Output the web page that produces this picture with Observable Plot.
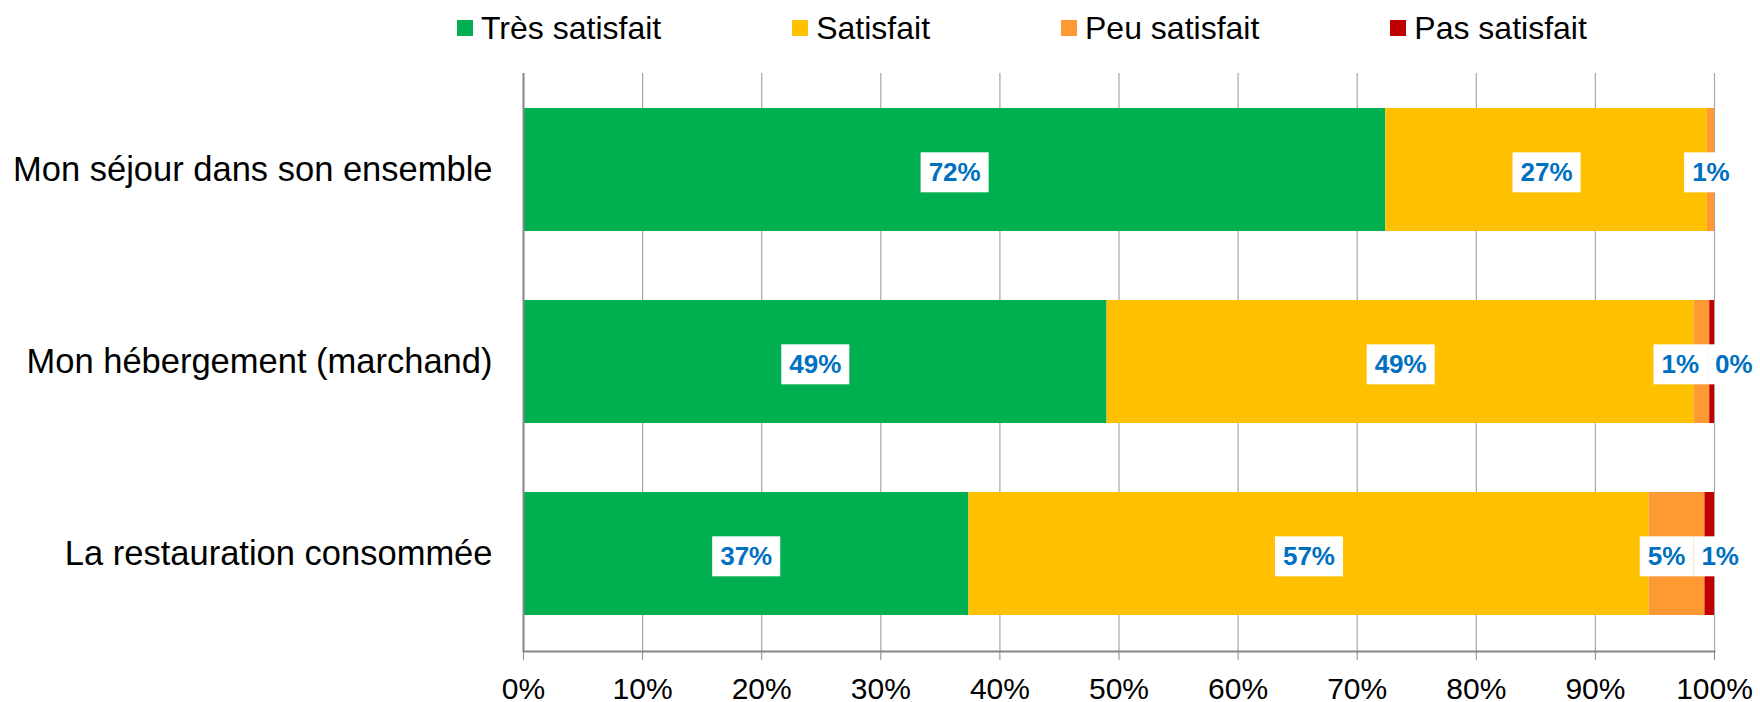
<!DOCTYPE html>
<html><head><meta charset="utf-8">
<script src="https://cdn.jsdelivr.net/npm/d3@7"></script>
<script src="https://cdn.jsdelivr.net/npm/@observablehq/plot@0.6"></script>
<style>
body{margin:0;background:#fff;font-family:"Liberation Sans",Arial,Helvetica,sans-serif;}
#legend{height:56px;display:flex;align-items:center;padding-left:457px;padding-top:0px;gap:131px;font-size:32px;color:#000;box-sizing:border-box;}
.item{display:flex;align-items:center;gap:8px;white-space:nowrap}
.sw{width:16px;height:16px;display:inline-block}
</style></head><body>
<div id="legend"></div><div id="chart"></div>
<script>
const categories = ["Mon séjour dans son ensemble", "Mon hébergement (marchand)", "La restauration consommée"];
const series = ["Très satisfait", "Satisfait", "Peu satisfait", "Pas satisfait"];
const tresSatisfait = [72.4, 49.0, 37.4];
const satisfait = [27.0, 49.3, 57.1];
const peuSatisfait = [0.6, 1.3, 4.7];
const pasSatisfait = [null, 0.4, 0.8];
const xTicks = [0, 10, 20, 30, 40, 50, 60, 70, 80, 90, 100];
const colors = ["#00B050", "#FFC000", "#FF9933", "#C00000"];

const seriesValues = [tresSatisfait, satisfait, peuSatisfait, pasSatisfait];
const data = [];
categories.forEach((c, i) => series.forEach((s, j) => {
  const v = seriesValues[j][i];
  if (v != null) data.push({cat: c, serie: s, value: v});
}));

// labels at segment centers, spread apart when too close
const labels = [];
categories.forEach(c => {
  let cum = 0;
  const row = [];
  data.filter(d => d.cat === c).forEach(d => {
    row.push({cat: c, lx: cum + d.value / 2, txt: Math.round(d.value) + "%"});
    cum += d.value;
  });
  const gap = 4.5;
  for (let k = 0; k < 6; k++) for (let i = 1; i < row.length; i++) {
    const dd = row[i].lx - row[i - 1].lx;
    if (dd < gap) { const s = (gap - dd) / 2; row[i].lx += s; row[i - 1].lx -= s; }
  }
  labels.push(...row);
});

// legend
const leg = document.getElementById("legend");
series.forEach((s, j) => {
  const it = document.createElement("div"); it.className = "item";
  const sw = document.createElement("span"); sw.className = "sw"; sw.style.background = colors[j];
  const tx = document.createElement("span"); tx.textContent = s;
  it.append(sw, tx); leg.append(it);
});

const chart = Plot.plot({
  width: 1760, height: 646,
  marginTop: 17, marginBottom: 51, marginLeft: 523, marginRight: 46,
  style: {fontFamily: "Liberation Sans, Arial, Helvetica, sans-serif", background: "#fff", color: "#000", overflow: "visible"},
  x: {domain: [0, 100]},
  y: {domain: categories, paddingInner: 0.357, paddingOuter: 0.1785, label: null},
  color: {domain: series, range: colors},
  marks: [
    Plot.gridX(xTicks.slice(1), {stroke: "#a6a6a6", strokeOpacity: 1, strokeWidth: 1.2}),
    Plot.barX(data, {x: "value", y: "cat", fill: "serie", order: series}),
    Plot.ruleX([0], {stroke: "#868686", strokeWidth: 2}),
    Plot.frame({anchor: "bottom", stroke: "#868686", strokeWidth: 2}),
    Plot.axisX(xTicks, {tickFormat: d => d + "%", tickSize: 9, tickPadding: 17, fontSize: 30, stroke: "#868686", fill: "#000", label: null}),
    Plot.axisY({tickSize: 0, tickPadding: 31, fontSize: 34.5, fill: "#000", label: null}),
    Plot.text(labels, {x: "lx", y: "cat", text: "txt", fill: "#0070C0", fontWeight: "bold", fontSize: 26, dy: 3, className: "seglab"})
  ]
});
document.getElementById("chart").append(chart);

// white boxes behind the data labels
const g = chart.querySelector("g.seglab") || chart.querySelector(".seglab");
if (g) {
  const texts = Array.from(g.querySelectorAll("text"));
  const rects = texts.map(t => {
    const b = t.getBBox();
    const r = document.createElementNS("http://www.w3.org/2000/svg", "rect");
    r.setAttribute("x", b.x - 8); r.setAttribute("y", b.y - 5);
    r.setAttribute("width", b.width + 16); r.setAttribute("height", b.height + 10);
    r.setAttribute("fill", "#fff");
    const tr = t.getAttribute("transform");
    if (tr) r.setAttribute("transform", tr);
    return r;
  });
  rects.forEach(r => g.insertBefore(r, g.firstChild));
}
</script>
</body></html>
